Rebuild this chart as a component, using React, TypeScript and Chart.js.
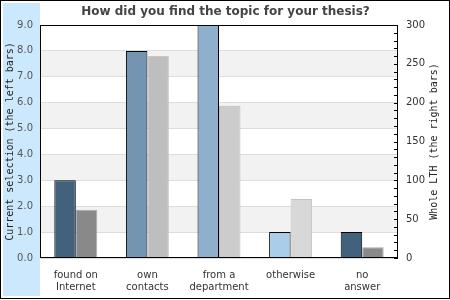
import React, { useEffect, useRef } from 'react';
import { Chart, registerables } from 'chart.js';
Chart.register(...registerables);

const titleText = 'How did you find the topic for your thesis?';
const categories: string[][] = [['found on', 'Internet'], ['own', 'contacts'], ['from a', 'department'], ['otherwise'], ['no', 'answer']];
const currentSelection = [3, 8, 9, 1, 1];
const wholeLTH = [62, 260, 196, 76, 14];
const leftTitle = 'Current selection (the left bars)';
const rightTitle = 'Whole LTH (the right bars)';
const leftColors = ['#41617d', '#7395b1', '#8eb0cc', '#aacde9', '#41617d'];
const rightColors = ['#898989', '#bebebe', '#cccccc', '#d8d8d8', '#898989'];
const rightBorders = ['#a9a9a9', '#c8c8c8', '#bdbdbd', '#c4c4c4', '#a9a9a9'];

const decor = {
  id: 'decor',
  beforeDraw(chart: any) {
    const { ctx, chartArea: a, scales } = chart;
    const y = scales.y;
    ctx.save();
    ctx.fillStyle = '#cce8fc';
    ctx.fillRect(3, 3, a.left - 3, chart.height - 7);
    ctx.fillStyle = '#f2f2f2';
    for (let v = 1; v < 9; v += 2) {
      const t = y.getPixelForValue(v + 1);
      const b = y.getPixelForValue(v);
      ctx.fillRect(a.left, t, a.right - a.left, b - t);
    }
    ctx.restore();
  },
  afterDraw(chart: any) {
    const { ctx, chartArea: a, scales } = chart;
    const y2 = scales.y2;
    ctx.save();
    ctx.strokeStyle = '#000';
    ctx.lineWidth = 1;
    ctx.strokeRect(Math.round(a.left) + 0.5, Math.round(a.top) + 0.5, Math.round(a.right - a.left) - 1, Math.round(a.bottom - a.top) - 1);
    ctx.beginPath();
    for (const t of y2.ticks) {
      const py = Math.round(y2.getPixelForValue(t.value)) + 0.5;
      ctx.moveTo(a.right - 4, py);
      ctx.lineTo(a.right, py);
    }
    ctx.stroke();
    ctx.strokeRect(0.5, 0.5, chart.width - 1, chart.height - 2);
    ctx.fillStyle = '#222';
    ctx.font = '10px "DejaVu Sans Mono"';
    ctx.textAlign = 'center';
    ctx.textBaseline = 'middle';
    ctx.translate(434, (a.top + a.bottom) / 2);
    ctx.rotate(-Math.PI / 2);
    ctx.fillText(rightTitle, 0, 0);
    ctx.restore();
  },
};

export default function App() {
  const ref = useRef<HTMLCanvasElement>(null);
  useEffect(() => {
    document.body.style.margin = '0';
    const chart = new Chart(ref.current!, {
      type: 'bar',
      data: {
        labels: categories,
        datasets: [
          { data: currentSelection, yAxisID: 'y', backgroundColor: leftColors, borderColor: '#000', borderWidth: 1 },
          { data: wholeLTH, yAxisID: 'y2', backgroundColor: rightColors, borderColor: rightBorders, borderWidth: 1 },
        ],
      },
      options: {
        animation: false,
        responsive: false,
        categoryPercentage: 0.6,
        barPercentage: 1,
        layout: { padding: { left: 3, right: 2, top: 0, bottom: 3 } },
        plugins: {
          legend: { display: false },
          tooltip: { enabled: false },
          title: {
            display: true,
            text: titleText,
            color: '#444',
            font: { family: 'DejaVu Sans', size: 12, weight: 'bold', lineHeight: 1.25 },
            padding: { top: 4, bottom: 6 },
          },
        },
        scales: {
          x: {
            grid: { display: false, drawTicks: false },
            border: { display: false },
            ticks: { color: '#333', font: { family: 'DejaVu Sans', size: 10 }, padding: 11, maxRotation: 0, autoSkip: false },
            afterFit: (s: any) => { s.height = 39; },
          },
          y: {
            position: 'left',
            min: 0,
            max: 9,
            grid: { color: '#dddddd', drawTicks: false },
            border: { display: false },
            ticks: { stepSize: 1, color: '#555', font: { family: 'DejaVu Sans', size: 10 }, padding: 7, callback: (v: any) => Number(v).toFixed(1) },
            title: { display: true, text: leftTitle, color: '#222', font: { family: 'DejaVu Sans Mono', size: 10 }, padding: { top: 1, bottom: 0 } },
            afterFit: (s: any) => { s.width = 37; },
          },
          y2: {
            position: 'right',
            min: 0,
            max: 300,
            grid: { drawOnChartArea: false, drawTicks: false },
            border: { display: false },
            ticks: { stepSize: 10, autoSkip: false, color: '#333', font: { family: 'DejaVu Sans', size: 10 }, padding: 8, callback: (v: any) => (Number(v) % 50 === 0 ? String(v) : '') },
            afterFit: (s: any) => { s.width = 50; },
          },
        },
      },
      plugins: [decor],
    });
    return () => chart.destroy();
  }, []);
  return <canvas ref={ref} width={450} height={300} style={{ display: 'block' }} />;
}
